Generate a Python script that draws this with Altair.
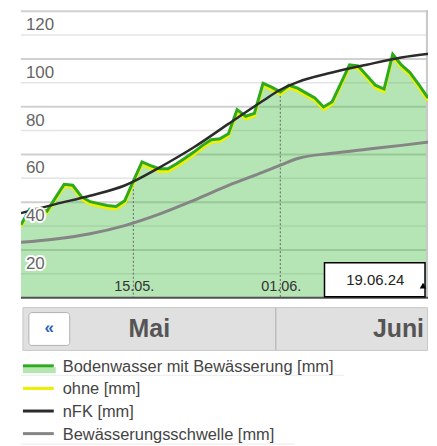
import altair as alt
import pandas as pd

# ---------------- data ----------------
dates = pd.date_range("2024-05-02", "2024-06-19", freq="D")
mit = [30.5, 37.0, 37.0, 36.2, 41.9, 47.5, 47.1, 42.3, 40.2, 39.4, 38.6, 38.2, 40.6,
       48.8, 56.9, 55.3, 54.0, 54.0, 56.1, 58.5, 61.0, 63.8, 66.2, 66.6, 68.7, 78.8,
       76.0, 77.2, 89.8, 88.2, 86.2, 89.0, 87.8, 85.7, 83.7, 79.9, 82.1, 89.8, 97.5,
       97.1, 93.1, 89.0, 87.4, 102.0, 97.5, 94.3, 89.4, 84.1, 84.5]
ohne = [29.8, 36.2, 36.2, 35.4, 41.0, 46.6, 46.2, 41.3, 39.2, 38.4, 37.6, 37.2, 39.6,
        47.8, 55.8, 54.2, 52.9, 52.9, 55.0, 57.4, 59.9, 62.7, 65.1, 65.5, 67.6, 77.7,
        74.9, 76.1, 88.7, 87.1, 85.1, 87.9, 86.7, 84.6, 82.6, 78.8, 81.0, 88.7, 96.4,
        96.0, 92.0, 87.9, 86.3, 100.9, 96.4, 93.2, 88.3, 83.0, 83.4]
curve_dates = ["2024-05-02", "2024-05-06", "2024-05-10", "2024-05-14", "2024-05-18",
               "2024-05-22", "2024-05-26", "2024-05-30", "2024-06-01", "2024-06-03",
               "2024-06-07", "2024-06-11", "2024-06-15", "2024-06-19"]
nfk = [35.4, 39.2, 42.7, 47.0, 54.5, 63.0, 72.8, 82.5, 87.1, 90.3, 94.3, 97.6, 100.6, 102.5]
schwelle = [23.2, 24.6, 26.8, 30.2, 35.0, 40.8, 47.0, 52.6, 55.5, 58.3, 60.5, 62.2, 63.8, 65.6]

y_major = [20, 40, 60, 80, 100, 120]
y_minor = [10, 30, 50, 70, 90, 110]
tick_dates = ["2024-05-15", "2024-06-01"]
tick_labels = ["15.05.", "01.06."]
cursor_date = "2024-06-17 23:00"
tooltip_label = "19.06.24"
month_left = "Mai"
month_right = "Juni"
legend_names = ["Bodenwasser mit Bewässerung [mm]", "ohne [mm]", "nFK [mm]",
                "Bewässerungsschwelle [mm]"]
legend_colors = ["#2eaa1e", "#eeee00", "#2b2b2b", "#858585"]

# ---------------- frames ----------------
F = "Liberation Sans"
W, H = 409, 289
BH = 148

df = pd.DataFrame({"date": dates, "mit": mit, "ohne": ohne})
curves = pd.DataFrame({"date": pd.to_datetime(curve_dates), "nfk": nfk, "schwelle": schwelle})
tick_df = df[df["date"].isin(pd.to_datetime(tick_dates))].copy()
tick_df["label"] = tick_labels
lab_df = pd.DataFrame({"v": y_major, "t": [str(v) for v in y_major]})
one = pd.DataFrame({"t": [tooltip_label]})
cursor_df = pd.DataFrame({"date": [pd.Timestamp(cursor_date)]})

xscale = alt.Scale(domain=[alt.DateTime(year=2024, month=5, date=2),
                           alt.DateTime(year=2024, month=6, date=18, hours=2)])
yscale = alt.Scale(domain=[0, 120.5], nice=False, zero=False)
X = alt.X("date:T", scale=xscale, axis=None)

grid_minor = alt.Chart(pd.DataFrame({"v": y_minor})).mark_rule(
    color="#e4e4e4", strokeWidth=1.5).encode(y=alt.Y("v:Q", scale=yscale, axis=None))
grid_major = alt.Chart(pd.DataFrame({"v": y_major})).mark_rule(
    color="#d0d0d0", strokeWidth=2).encode(y=alt.Y("v:Q", scale=yscale, axis=None))

area = alt.Chart(df).mark_area(color="#45bb45", opacity=0.4, clip=True).encode(
    x=X, y=alt.Y("mit:Q", scale=yscale, axis=None), y2=alt.datum(0))

dotted = alt.Chart(tick_df).mark_rule(color="#666666", strokeDash=[2, 2], strokeWidth=1).encode(
    x=X, y=alt.Y("mit:Q", scale=yscale), y2=alt.datum(0))

cursor = alt.Chart(cursor_df).mark_rule(color="#c8c8c8", strokeWidth=2).encode(x=X)

schwelle_line = alt.Chart(curves).mark_line(
    color="#858585", strokeWidth=3, interpolate="monotone", clip=True).encode(
    x=X, y=alt.Y("schwelle:Q", scale=yscale))
ohne_line = alt.Chart(df).mark_line(color="#f0f000", strokeWidth=3, clip=True).encode(
    x=X, y=alt.Y("ohne:Q", scale=yscale))
mit_line = alt.Chart(df).mark_line(color="#2eaa1e", strokeWidth=3, clip=True).encode(
    x=X, y=alt.Y("mit:Q", scale=yscale))
nfk_line = alt.Chart(curves).mark_line(
    color="#2b2b2b", strokeWidth=2.5, interpolate="monotone", clip=True).encode(
    x=X, y=alt.Y("nfk:Q", scale=yscale))

halo = alt.Chart(lab_df).mark_text(
    align="left", baseline="middle", dy=14, fontSize=17, font=F,
    color="white", stroke="white", strokeWidth=4, strokeJoin="round").encode(
    x=alt.value(5), y=alt.Y("v:Q", scale=yscale), text="t:N")
ylabels = alt.Chart(lab_df).mark_text(
    align="left", baseline="middle", dy=14, fontSize=17, font=F, color="#666666").encode(
    x=alt.value(5), y=alt.Y("v:Q", scale=yscale), text="t:N")

xlabels = alt.Chart(tick_df).mark_text(
    baseline="middle", fontSize=14.5, font=F, color="#333333", dx=1).encode(
    x=X, y=alt.value(H - 11), text="label:N")

baseline = alt.Chart(pd.DataFrame({"v": [0]})).mark_rule(
    color="#505050", strokeWidth=2).encode(y=alt.Y("v:Q", scale=yscale))

tip_box = alt.Chart(one).mark_rect(fill="white", stroke="black", strokeWidth=1.5).encode(
    x=alt.value(305), x2=alt.value(406), y=alt.value(254), y2=alt.value(288))
tip_text = alt.Chart(one).mark_text(fontSize=15, font=F, color="#222222").encode(
    x=alt.value(356), y=alt.value(271), text="t:N")
tip_arrow = alt.Chart(one).mark_point(
    shape="triangle-up", filled=True, color="black", size=45, opacity=1).encode(
    x=alt.value(404), y=alt.value(277))

plot = alt.layer(
    grid_minor, grid_major, area, dotted, cursor, schwelle_line, ohne_line, mit_line,
    nfk_line, halo, ylabels, xlabels, baseline, tip_box, tip_text, tip_arrow
).properties(width=W, height=H)

# ---------------- navigation bar + legend ----------------
nav_bg = alt.Chart(one).mark_rect(fill="#e0e0e0", stroke="#c8c8c8", strokeWidth=1).encode(
    x=alt.value(2), x2=alt.value(W - 0.5), y=alt.value(10), y2=alt.value(53))
btn = alt.Chart(one).mark_rect(fill="white", stroke="#b0b0b0", strokeWidth=1, cornerRadius=3).encode(
    x=alt.value(8), x2=alt.value(49), y=alt.value(15), y2=alt.value(48))
btn_text = alt.Chart(one).mark_text(
    text="«", fontSize=17, fontWeight="bold", font=F, color="#2a62b8", baseline="middle").encode(
    x=alt.value(28.5), y=alt.value(31))
divider = alt.Chart(one).mark_rule(color="#bdbdbd", strokeWidth=1.5).encode(
    x=alt.value(256), y=alt.value(10), y2=alt.value(53))
m_left = alt.Chart(one).mark_text(
    text=month_left, fontSize=25, fontWeight="bold", font=F, color="#555555", baseline="middle").encode(
    x=alt.value(129), y=alt.value(32))
m_right = alt.Chart(one).mark_text(
    text=month_right, fontSize=25, fontWeight="bold", font=F, color="#555555",
    baseline="middle", align="right").encode(
    x=alt.value(405), y=alt.value(32))

leg_df = pd.DataFrame({"row": list(range(len(legend_names))), "name": legend_names,
                       "color": legend_colors})
RY = alt.Y("row:Q", scale=alt.Scale(domain=[0, 3], range=[69.5, 137.6]), axis=None)
leg = alt.Chart(leg_df)
leg_band = leg.transform_filter("datum.row == 0").mark_rule(
    color="#b5e6b2", strokeWidth=6, yOffset=3.5).encode(
    x=alt.value(2), x2=alt.value(35), y=RY)
leg_lines = leg.mark_rule(strokeWidth=3, yOffset=-1).encode(
    x=alt.value(2), x2=alt.value(33), y=RY, color=alt.Color("color:N", scale=None))
leg_text = leg.mark_text(align="left", baseline="middle", fontSize=16.5, font=F,
                         color="#444444").encode(x=alt.value(42), y=RY, text="name:N")
sep1 = leg.transform_filter("datum.row == 0").mark_rule(
    color="#ebebeb", strokeWidth=1, yOffset=8.5).encode(x=alt.value(0), x2=alt.value(325), y=RY)
sep2 = leg.transform_filter("datum.row == 3").mark_rule(
    color="#ebebeb", strokeWidth=1, yOffset=9.5).encode(x=alt.value(0), x2=alt.value(275), y=RY)

bottom = alt.layer(
    nav_bg, btn, btn_text, divider, m_left, m_right, sep1, sep2, leg_band, leg_lines, leg_text
).properties(width=W, height=BH)

chart = alt.vconcat(plot, bottom, spacing=0, bounds="flush").properties(
    padding={"left": 12, "top": 0, "right": 0, "bottom": 0}
).configure_view(stroke=None)

chart.save("out.html", embed_options={"renderer": "svg", "actions": False})
